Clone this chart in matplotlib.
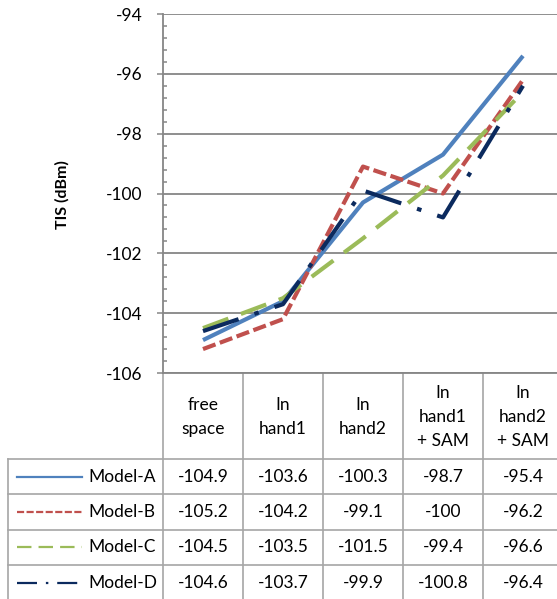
import matplotlib
matplotlib.use("Agg")
import matplotlib.pyplot as plt
from matplotlib.ticker import MultipleLocator
from matplotlib.transforms import blended_transform_factory
from matplotlib.lines import Line2D

plt.rcParams['font.family'] = ['Lato', 'DejaVu Sans']

categories = ["free\nspace", "In\nhand1", "In\nhand2", "In\nhand1\n+ SAM", "In\nhand2\n+ SAM"]
series_names = ["Model-A", "Model-B", "Model-C", "Model-D"]
model_a = [-104.9, -103.6, -100.3, -98.7, -95.4]
model_b = [-105.2, -104.2, -99.1, -100, -96.2]
model_c = [-104.5, -103.5, -101.5, -99.4, -96.6]
model_d = [-104.6, -103.7, -99.9, -100.8, -96.4]
series_values = [model_a, model_b, model_c, model_d]
y_ticks = [-106, -104, -102, -100, -98, -96, -94]

colors = ['#4F81BD', '#C0504D', '#9BBB59', '#0B2A5E']
dashes = [None, (3.2, 1.1), (6.5, 3.2), (9, 4, 1.1, 4)]

W, H = 557, 599
FS = 12.5
fig = plt.figure(figsize=(W / 100, H / 100), dpi=100)
ax_left, ax_right = 163, 563
ax = fig.add_axes([ax_left / W, 1 - 373 / H, (ax_right - ax_left) / W, (373 - 14) / H])
ov = fig.add_axes([0, 0, 1, 1], zorder=-1)
ov.set_xlim(0, W)
ov.set_ylim(H, 0)
ov.axis('off')

x = list(range(len(categories)))
for vals, c, d in zip(series_values, colors, dashes):
    ln, = ax.plot(x, vals, color=c, lw=3.0, solid_capstyle='butt',
                  dash_capstyle='butt', solid_joinstyle='round', clip_on=False)
    if d is not None:
        ln.set_dashes(d)

ax.set_xlim(-0.5, len(categories) - 0.5)
ax.set_ylim(-106, -94)
ax.set_yticks(y_ticks)
ax.set_yticklabels([str(t) for t in y_ticks], fontsize=FS)
ax.yaxis.set_minor_locator(MultipleLocator(0.4))
ax.tick_params(axis='y', which='major', direction='out', length=4, width=1.1,
               color='#868686', pad=11)
ax.tick_params(axis='y', which='minor', direction='in', length=3, width=1.1,
               color='#868686')
ax.set_xticks([])
ax.grid(axis='y', color='#868686', lw=1.3)
ax.set_axisbelow(True)
for s in ['top', 'right']:
    ax.spines[s].set_visible(False)
for s in ['left', 'bottom']:
    ax.spines[s].set_color('#868686')
    ax.spines[s].set_linewidth(1.3)

fig.text(62 / W, 1 - 195 / H, 'TIS (dBm)', rotation=90, fontsize=11.5,
         fontweight='bold', ha='center', va='center')

# data table
tr = blended_transform_factory(ax.transData, ov.transData)
gcol = '#A6A6A6'
header_top, header_bot = 373, 459
row_h = 35.3
for i in range(len(categories)):
    ov.add_line(Line2D([i - 0.5, i - 0.5], [header_top, H], transform=tr,
                       color=gcol, lw=1.2))
ov.add_line(Line2D([8, 8], [header_bot, H], color=gcol, lw=1.2))
for r in range(len(series_names) + 1):
    yy = header_bot + r * row_h
    ov.add_line(Line2D([8, W], [yy, yy], color=gcol, lw=1.2))

for i, cat in enumerate(categories):
    ov.text(i, (header_top + header_bot) / 2 + 1, cat, transform=tr, ha='center',
            va='center', fontsize=FS, linespacing=1.6)

for r, (name, vals, c, d) in enumerate(zip(series_names, series_values, colors, dashes)):
    yc = header_bot + r * row_h + row_h / 2
    for i, v in enumerate(vals):
        ov.text(i, yc, f"{v:g}", transform=tr, ha='center', va='center', fontsize=FS)
    lg = Line2D([17, 82], [yc, yc], color=c, lw=1.6, dash_capstyle='butt')
    if d is not None:
        lg.set_dashes(d)
    ov.add_line(lg)
    ov.text(88, yc, name, ha='left', va='center', fontsize=FS)

fig.savefig('out.png', dpi=100)
